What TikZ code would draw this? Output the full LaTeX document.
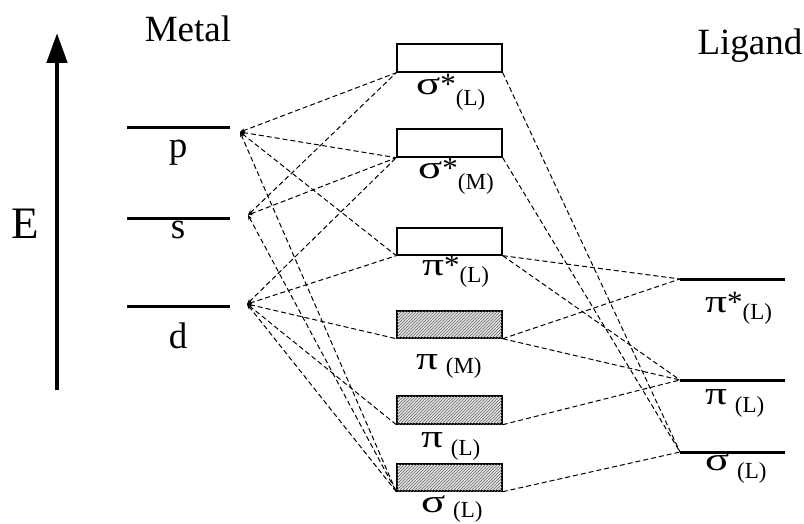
\documentclass[tikz,border=0pt]{standalone}
\usepackage{fontspec}
\usepackage{graphicx}
\setmainfont{Liberation Serif}
\usetikzlibrary{arrows.meta,patterns}
\newcommand\mosub[2]{\raisebox{-#2}{\fontsize{23pt}{23pt}\selectfont #1}}
\newcommand\gsig{\scalebox{1.45}[1.05]{σ}}
\newcommand\gpi{\scalebox{1.4}[1.05]{π}}
\begin{document}
\begin{tikzpicture}[x=1pt,y=-1pt,
  lvl/.style={line width=3pt},
  conn/.style={dash pattern=on 5pt off 3pt, line width=1pt},
  conna/.style={conn, {Stealth[length=5pt,width=4pt]}-},
  mobox/.style={draw, line width=1.4pt, minimum width=105pt, minimum height=28pt, inner sep=0pt, fill=white},
  mofill/.style={mobox, fill=gray!20, postaction={pattern=north east lines, pattern color=gray!80!black}},
  big/.style={font=\fontsize{37pt}{37pt}\selectfont, inner sep=0pt},
  gk/.style={font=\fontsize{31pt}{31pt}\selectfont, inner sep=0pt, anchor=base west}]
\useasboundingbox (0,0) rectangle (804,524);

% energy axis
\coordinate (Ebot) at (57,390);
\coordinate (Etop) at (57,33);
\draw[line width=4.8pt, -{Triangle[length=30pt,width=20pt]}] (Ebot) -- (Etop);
\node[font=\fontsize{45pt}{45pt}\selectfont, inner sep=0pt, anchor=base] (E) at (25,238) {E};

% titles
\node[big, anchor=base] (metal) at (188,42) {Metal};
\node[big, anchor=base] (ligand) at (750,55) {Ligand};

% metal levels
\coordinate (pA) at (127,128); \coordinate (pB) at (230,128);
\coordinate (sA) at (127,219); \coordinate (sB) at (230,219);
\coordinate (dA) at (127,306); \coordinate (dB) at (230,306);
\draw[lvl] (pA) -- (pB);
\draw[lvl] (sA) -- (sB);
\draw[lvl] (dA) -- (dB);
\node[big, anchor=base] (plab) at (178,158) {p};
\node[big, anchor=base] (slab) at (178,239) {s};
\node[big, anchor=base] (dlab) at (178,348) {d};
\coordinate (pE) at (240,132);
\coordinate (sE) at (248,215);
\coordinate (dE) at (247,304);

% ligand levels
\coordinate (LpsA) at (680,279); \coordinate (LpsB) at (785,279);
\coordinate (LpA) at (680,380); \coordinate (LpB) at (785,380);
\coordinate (LsA) at (680,452); \coordinate (LsB) at (785,452);
\draw[lvl] (LpsA) -- (LpsB);
\draw[lvl] (LpA) -- (LpB);
\draw[lvl] (LsA) -- (LsB);
\node[gk] (lpslab) at (705,312) {\gpi*\mosub{(L)}{7pt}};
\node[gk] (lplab) at (705,404) {\gpi\ \mosub{(L)}{8pt}};
\node[gk] (lslab) at (705,470) {\gsig\ \mosub{(L)}{8pt}};

% molecular orbitals
\node[mobox] (sLs) at (449.5,58) {};
\node[mobox] (sMs) at (449.5,143) {};
\node[mobox, minimum height=27pt] (pLs) at (449.5,241.5) {};
\node[mofill, minimum height=27pt] (pM) at (449.5,324.5) {};
\node[mofill] (pL) at (449.5,410) {};
\node[mofill, minimum height=27pt] (sL) at (449.5,477.5) {};
\node[gk] (sLslab) at (416,95) {\gsig*\mosub{(L)}{11pt}};
\node[gk] (sMslab) at (418,179) {\gsig*\mosub{(M)}{10pt}};
\node[gk] (pLslab) at (422,275) {\gpi*\mosub{(L)}{8pt}};
\node[gk] (pMlab) at (416,369) {\gpi\ \mosub{(M)}{4pt}};
\node[gk] (pLlab) at (421,447) {\gpi\ \mosub{(L)}{8pt}};
\node[gk] (sLlab) at (421,512) {\gsig\ \mosub{(L)}{5pt}};

% metal connectors
\draw[conna] (pE) -- (sLs.south west);
\draw[conna] (pE) -- (sMs.south west);
\draw[conna] (pE) -- (pLs.south west);
\draw[conna] (pE) -- (sL.south west);
\draw[conna] (sE) -- (sLs.south west);
\draw[conna] (sE) -- (sMs.south west);
\draw[conna] (sE) -- (sL.south west);
\draw[conna] (dE) -- (sMs.south west);
\draw[conna] (dE) -- (pLs.south west);
\draw[conna] (dE) -- (pM.south west);
\draw[conna] (dE) -- (pL.south west);
\draw[conna] (dE) -- (sL.south west);

% ligand connectors
\draw[conn] (sLs.south east) -- (LsA);
\draw[conn] (sMs.south east) -- (LsA);
\draw[conn] (sL.south east) -- (LsA);
\draw[conn] (pLs.south east) -- (LpA);
\draw[conn] (pM.south east) -- (LpA);
\draw[conn] (pL.south east) -- (LpA);
\draw[conn] (pLs.south east) -- (LpsA);
\draw[conn] (pM.south east) -- (LpsA);
\end{tikzpicture}
\end{document}
